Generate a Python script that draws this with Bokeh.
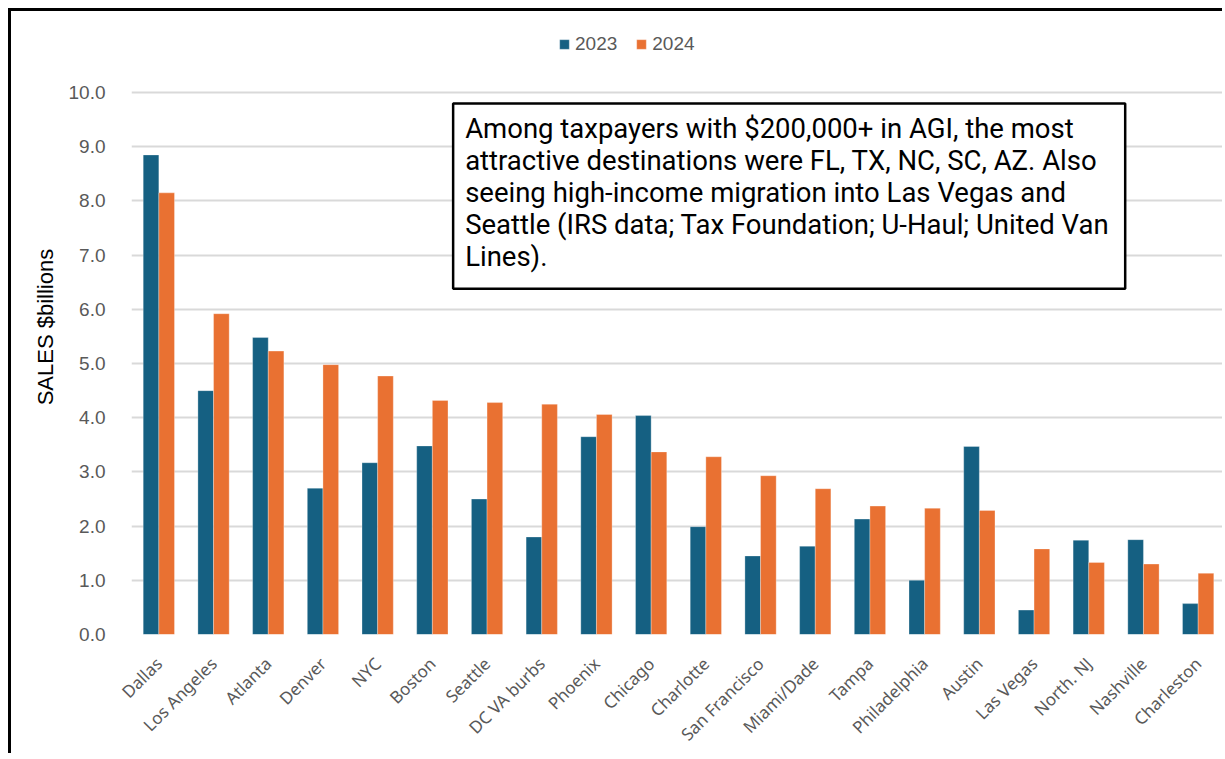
import math
from bokeh.plotting import figure
from bokeh.models import (ColumnDataSource, FactorRange, Range1d, Legend, LegendItem, Label,
                          FixedTicker, NumeralTickFormatter)
from bokeh.transform import dodge
from bokeh.embed import file_html
from bokeh.resources import INLINE

cities = ["Dallas", "Los Angeles", "Atlanta", "Denver", "NYC", "Boston", "Seattle",
          "DC VA burbs", "Phoenix", "Chicago", "Charlotte", "San Francisco", "Miami/Dade",
          "Tampa", "Philadelphia", "Austin", "Las Vegas", "North. NJ", "Nashville", "Charleston"]
sales_2023 = [8.85, 4.50, 5.48, 2.70, 3.17, 3.48, 2.50, 1.80, 3.65, 4.04,
              1.99, 1.45, 1.63, 2.13, 1.00, 3.47, 0.45, 1.74, 1.75, 0.57]
sales_2024 = [8.15, 5.92, 5.23, 4.98, 4.77, 4.32, 4.28, 4.25, 4.06, 3.37,
              3.28, 2.93, 2.69, 2.37, 2.33, 2.29, 1.58, 1.33, 1.30, 1.13]
y_ticks = [0, 1, 2, 3, 4, 5, 6, 7, 8, 9, 10]
note = ("Among taxpayers with $200,000+ in AGI, the most\n"
        "attractive destinations were FL, TX, NC, SC, AZ.  Also\n"
        "seeing high-income migration into Las Vegas and\n"
        "Seattle (IRS data; Tax Foundation; U-Haul; United Van\n"
        "Lines).")

BLUE = "#156082"
ORANGE = "#E97132"
GREY = "#595959"

src = ColumnDataSource(dict(city=cities, y23=sales_2023, y24=sales_2024))

p = figure(x_range=FactorRange(*cities, range_padding=0), y_range=Range1d(0, 11.46),
           width=1214, height=745, output_backend="svg", toolbar_location=None,
           min_border_left=120, min_border_right=0, min_border_top=2, min_border_bottom=111)
p.styles = {"border-left": "3px solid black", "border-top": "3px solid black",
            "margin-left": "8px", "margin-top": "8px"}
p.outline_line_color = None
p.background_fill_color = "white"

r1 = p.vbar(x=dodge("city", -0.143, range=p.x_range), top="y23", width=0.286, source=src,
            fill_color=BLUE, line_color="#ffffff", line_width=0.6, line_alpha=0.5)
r2 = p.vbar(x=dodge("city", 0.143, range=p.x_range), top="y24", width=0.286, source=src,
            fill_color=ORANGE, line_color="#ffffff", line_width=0.6, line_alpha=0.5)

# y axis
p.yaxis.ticker = FixedTicker(ticks=y_ticks)
p.yaxis.formatter = NumeralTickFormatter(format="0.0")
p.yaxis.axis_label = "SALES  $billions"
p.yaxis.axis_label_text_font = "Liberation Sans"
p.yaxis.axis_label_text_font_size = "22px"
p.yaxis.axis_label_text_font_style = "normal"
p.yaxis.axis_label_text_color = "black"
p.yaxis.axis_label_standoff = 8
p.yaxis.major_label_text_font = "Liberation Sans"
p.yaxis.major_label_text_font_size = "19px"
p.yaxis.major_label_text_color = GREY
p.yaxis.major_label_standoff = 20

# x axis (categories)
p.xaxis.major_label_orientation = math.pi / 4
p.xaxis.major_label_text_font = "Noto Sans"
p.xaxis.major_label_text_font_size = "17px"
p.xaxis.major_label_text_color = GREY
p.xaxis.major_label_standoff = 20

for ax in (p.xaxis[0], p.yaxis[0]):
    ax.axis_line_color = None
    ax.major_tick_line_color = None
    ax.minor_tick_line_color = None

p.xgrid.grid_line_color = None
p.ygrid.ticker = FixedTicker(ticks=y_ticks)
p.ygrid.grid_line_color = "#d9d9d9"
p.ygrid.grid_line_width = 2

legend = Legend(items=[LegendItem(label="2023", renderers=[r1]),
                       LegendItem(label="2024", renderers=[r2])],
                orientation="horizontal", location=(427, 579),
                border_line_color=None, background_fill_alpha=0,
                label_text_font="Liberation Sans", label_text_font_size="19px",
                label_text_color=GREY, glyph_width=12, glyph_height=12,
                label_standoff=5, spacing=18, padding=5, margin=0)
p.add_layout(legend, "center")

lab = Label(x=5.88, y=9.80, x_units="data", y_units="data", text=note,
            anchor="top_left", text_font="Roboto", text_font_size="27.5px",
            text_color="black", text_line_height=0.965,
            border_line_color="black", border_line_width=2.5,
            background_fill_color="white",
            padding=dict(top=9, right=16, bottom=16, left=12))
p.add_layout(lab)

open("out.html", "w").write(file_html(p, INLINE))
